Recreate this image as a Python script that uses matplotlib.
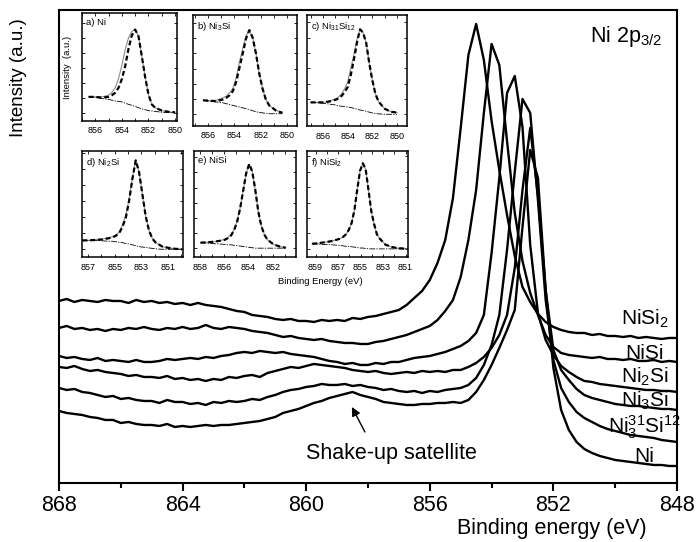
import numpy as np
import matplotlib
matplotlib.use('Agg')
import matplotlib.pyplot as plt
from matplotlib.ticker import FixedLocator, MultipleLocator, NullFormatter

plt.rcParams['font.family'] = ['Liberation Sans', 'DejaVu Sans']
plt.rcParams['mathtext.default'] = 'regular'

# Ni 2p3/2 spectra, 868 -> 848 eV in 0.25 eV steps (one row per eV)
energy = np.linspace(868.0, 848.0, 81)

nisi2 = [
    182, 184, 181, 183,  182, 181, 183, 182,  182, 180, 183, 181,
    182, 180, 181, 179,  180, 178, 180, 178,  177, 176, 174, 172,
    171, 168, 167, 166,  164, 163, 164, 162,  162, 161, 163, 162,
    163, 162, 165, 164,  166, 167, 169, 171,  173, 178, 185, 192,
    203, 220, 243, 285,  355, 428, 459, 423,  362, 313, 268, 227,
    196, 181, 169, 161,  156, 153, 151, 150,  150, 148, 149, 147,
    147, 146, 147, 145,  146, 145, 144, 145,  145,
]
nisi = [
    155, 157, 154, 155,  153, 154, 152, 154,  153, 155, 154, 156,
    154, 153, 155, 154,  156, 154, 155, 158,  155, 154, 156, 155,
    154, 152, 151, 150,  148, 146, 147, 145,  144, 143, 144, 142,
    141, 140, 140, 139,  139, 141, 142, 144,  146, 148, 151, 154,
    157, 163, 172, 183,  206, 243, 293, 370,  439, 418, 342, 270,
    222, 190, 168, 148,  136, 130, 128, 127,  126, 125, 126, 124,
    124, 123, 124, 122,  122, 123, 121, 122,  121,
]
ni2si = [
    127, 125, 126, 124,  123, 125, 122, 123,  122, 121, 123, 121,
    121, 122, 124, 123,  124, 125, 124, 126,  125, 127, 128, 130,
    131, 130, 132, 131,  130, 131, 129, 128,  127, 126, 124, 122,
    121, 119, 120, 118,  118, 120, 119, 121,  121, 123, 125, 126,
    127, 129, 131, 134,  137, 142, 150, 168,  230, 305, 390, 407,
    356, 238, 170, 143,  128, 117, 111, 106,  102, 101, 99, 98,
    97, 96, 95, 94,  93, 93, 92, 92,  91,
]
ni3si = [
    116, 115, 117, 114,  112, 113, 111, 110,  109, 107, 108, 106,
    106, 105, 107, 104,  105, 103, 104, 102,  104, 103, 106, 105,
    107, 108, 106, 110,  112, 114, 116, 115,  117, 119, 118, 117,
    116, 115, 113, 112,  111, 112, 110, 109,  110, 111, 110, 112,
    111, 112, 111, 113,  113, 116, 120, 126,  135, 148, 168, 215,
    293, 355, 288, 193,  133, 113, 103, 94,  88, 85, 83, 81,
    79, 78, 77, 77,  76, 75, 74, 74,  73,
]
ni31si12 = [
    95, 93, 94, 91,  90, 88, 86, 87,  84, 85, 83, 82,
    82, 80, 83, 81,  81, 79, 80, 78,  81, 80, 82, 81,
    82, 84, 83, 86,  88, 91, 93, 94,  96, 97, 99, 98,
    98, 99, 97, 98,  96, 95, 93, 94,  92, 91, 92, 90,
    92, 91, 93, 94,  95, 98, 105, 118,  138, 168, 233, 311,
    384, 370, 283, 183,  123, 95, 81, 71,  65, 61, 57, 54,
    52, 50, 48, 47,  46, 45, 43, 42,  41,
]
ni = [
    72, 70, 69, 68,  66, 65, 63, 63,  60, 61, 59, 58,
    58, 57, 59, 56,  57, 56, 57, 58,  57, 58, 58, 59,
    60, 61, 62, 64,  66, 70, 72, 74,  77, 80, 82, 85,
    87, 89, 91, 88,  86, 84, 81, 80,  79, 78, 78, 79,
    79, 80, 80, 81,  80, 83, 91, 103,  118, 135, 153, 173,
    256, 333, 305, 193,  115, 73, 53, 41,  34, 30, 27, 25,
    23, 22, 21, 20,  19, 18, 18, 17,  17,
]

spectra = [nisi2, nisi, ni2si, ni3si, ni31si12, ni]
spectra_names = [r'NiSi$_2$', 'NiSi', r'Ni$_2$Si', r'Ni$_3$Si',
                 r'Ni$^{31}_3$Si$^{12}$', 'Ni']
name_y = [158, 124, 100, 76, 50, 21]

# Peak fits: energy offset from the peak (eV), normalised raw / fit / background
rel = [4.5, 4.0, 3.5, 3.0, 2.5, 2.0, 1.75, 1.5, 1.25, 1.0, 0.75, 0.5, 0.25,
       0.0, -0.25, -0.5, -0.75, -1.0, -1.25, -1.5, -2.0, -2.5, -3.0, -3.5, -4.0]
N = None

fit_titles = ['a) Ni', r'b) Ni$_3$Si', r'c) Ni$_{31}$Si$_{12}$',
              r'd) Ni$_2$Si', 'e) NiSi', r'f) NiSi$_2$']
fit_peaks = [853.0, 852.87, 853.0, 853.42, 853.95, 854.8]
fit_ticks = [[856, 854, 852, 850], [856, 854, 852, 850], [856, 854, 852, 850],
             [857, 855, 853, 851], [858, 856, 854, 852], [859, 857, 855, 853, 851]]

raw_a = [N, N, 0.19, 0.19, 0.19, 0.21, 0.245, 0.30, 0.41, 0.57, 0.76, 0.90, 0.98,
         1.0, 0.92, 0.68, 0.43, 0.22, 0.10, 0.06, 0.025, 0.01, 0.0, N, N]
fit_a = [N, N, 0.19, 0.19, 0.18, 0.19, 0.21, 0.24, 0.30, 0.405, 0.56, 0.77, 0.93,
         1.0, 0.92, 0.68, 0.43, 0.22, 0.10, 0.06, 0.025, 0.01, 0.005, N, N]
bg_a = [N, N, 0.19, 0.185, 0.17, 0.16, 0.15, 0.14, 0.135, 0.13, 0.115, 0.10, 0.09,
        0.075, 0.06, 0.045, 0.035, 0.025, 0.02, 0.015, 0.005, 0.0, 0.0, N, N]

raw_b = [N, N, 0.16, 0.155, 0.16, 0.19, 0.21, 0.25, 0.30, 0.43, 0.62, 0.78, 0.93,
         1.0, 0.91, 0.72, 0.48, 0.30, 0.17, 0.10, 0.04, 0.015, N, N, N]
fit_b = [N, N, 0.16, 0.155, 0.15, 0.17, 0.19, 0.22, 0.27, 0.38, 0.55, 0.72, 0.90,
         1.0, 0.91, 0.72, 0.48, 0.30, 0.17, 0.10, 0.04, 0.01, N, N, N]
bg_b = [N, N, 0.16, 0.15, 0.14, 0.13, 0.12, 0.11, 0.10, 0.09, 0.08, 0.07, 0.06,
        0.05, 0.035, 0.025, 0.015, 0.01, 0.005, 0.0, 0.0, 0.0, N, N, N]

raw_c = [N, 0.14, 0.14, 0.14, 0.155, 0.18, 0.20, 0.24, 0.30, 0.38, 0.54, 0.70, 0.88,
         1.0, 0.96, 0.84, 0.60, 0.40, 0.24, 0.15, 0.065, 0.03, 0.02, N, N]
fit_c = [N, 0.14, 0.14, 0.14, 0.15, 0.17, 0.185, 0.215, 0.26, 0.32, 0.46, 0.64, 0.84,
         1.0, 0.96, 0.84, 0.60, 0.40, 0.24, 0.15, 0.065, 0.03, 0.02, N, N]
bg_c = [N, 0.14, 0.135, 0.13, 0.12, 0.11, 0.10, 0.095, 0.09, 0.085, 0.08, 0.07, 0.06,
        0.05, 0.045, 0.035, 0.025, 0.015, 0.01, 0.005, 0.0, 0.0, 0.0, N, N]

raw_d = [N, 0.10, 0.10, 0.11, 0.115, 0.13, 0.14, 0.16, 0.19, 0.27, 0.38, 0.56, 0.80,
         1.0, 0.87, 0.62, 0.37, 0.21, 0.12, 0.075, 0.03, 0.015, 0.005, 0.0, N]
fit_d = [N, 0.10, 0.10, 0.105, 0.11, 0.125, 0.135, 0.15, 0.18, 0.25, 0.35, 0.54, 0.79,
         1.0, 0.87, 0.62, 0.37, 0.21, 0.12, 0.075, 0.03, 0.015, 0.005, 0.0, N]
bg_d = [N, 0.10, 0.10, 0.10, 0.095, 0.09, 0.09, 0.085, 0.08, 0.075, 0.065, 0.06, 0.05,
        0.04, 0.03, 0.025, 0.02, 0.015, 0.01, 0.005, 0.0, 0.0, 0.0, 0.0, N]

raw_e = [N, 0.065, 0.07, 0.075, 0.085, 0.105, 0.125, 0.16, 0.22, 0.32, 0.47, 0.68, 0.89,
         1.0, 0.91, 0.69, 0.43, 0.26, 0.16, 0.10, 0.045, 0.02, 0.005, N, N]
fit_e = [N, 0.065, 0.07, 0.075, 0.085, 0.10, 0.12, 0.15, 0.21, 0.31, 0.47, 0.68, 0.89,
         1.0, 0.91, 0.69, 0.43, 0.26, 0.16, 0.10, 0.045, 0.02, 0.005, N, N]
bg_e = [N, 0.065, 0.06, 0.055, 0.05, 0.045, 0.04, 0.04, 0.035, 0.03, 0.025, 0.02, 0.015,
        0.01, 0.005, 0.0, 0.0, 0.0, 0.0, 0.0, 0.0, 0.0, 0.0, N, N]

raw_f = [0.06, 0.065, 0.075, 0.085, 0.10, 0.12, 0.14, 0.17, 0.22, 0.30, 0.45, 0.69, 0.91,
         1.0, 0.93, 0.69, 0.44, 0.29, 0.17, 0.12, 0.05, 0.025, 0.01, 0.005, 0.0]
fit_f = [0.06, 0.065, 0.075, 0.085, 0.10, 0.12, 0.14, 0.17, 0.22, 0.30, 0.45, 0.69, 0.91,
         1.0, 0.93, 0.69, 0.44, 0.29, 0.17, 0.12, 0.05, 0.025, 0.01, 0.005, 0.0]
bg_f = [0.06, 0.055, 0.05, 0.05, 0.045, 0.04, 0.035, 0.03, 0.03, 0.025, 0.02, 0.015, 0.01,
        0.01, 0.005, 0.0, 0.0, 0.0, 0.0, 0.0, 0.0, 0.0, 0.0, 0.0, 0.0]

fit_raw = [raw_a, raw_b, raw_c, raw_d, raw_e, raw_f]
fit_sum = [fit_a, fit_b, fit_c, fit_d, fit_e, fit_f]
fit_bg = [bg_a, bg_b, bg_c, bg_d, bg_e, bg_f]

# ---------------------------------------------------------------- main plot
fig = plt.figure(figsize=(6.98, 5.42), dpi=100)
ax = fig.add_axes([0.0845, 0.1089, 0.8854, 0.8727])

for spec in spectra:
    ax.plot(energy, spec, color='black', lw=1.7, solid_joinstyle='round')

ax.set_xlim(868, 848)
ax.set_ylim(0, 473)
ax.set_yticks([])
ax.xaxis.set_major_locator(MultipleLocator(4))
ax.xaxis.set_minor_locator(MultipleLocator(2))
ax.tick_params(axis='x', which='major', direction='out', length=6, width=1.5,
               labelsize=15.5, pad=3, top=False)
ax.tick_params(axis='x', which='minor', direction='out', length=3.5, width=1.5,
               top=False)
for sp in ax.spines.values():
    sp.set_linewidth(1.5)

ax.set_xlabel('Binding energy (eV)', fontsize=15.5)
ax.xaxis.set_label_coords(0.798, -0.074)
fig.text(19 / 698, 1 - 78 / 542, 'Intensity (a.u.)', rotation=90,
         ha='center', va='center', fontsize=13.5)

ax.text(0.859, 0.932, r'Ni 2p$_{3/2}$', transform=ax.transAxes,
        fontsize=15.5, ha='left', va='baseline')

for name, ly in zip(spectra_names, name_y):
    ax.text(849.05, ly, name, fontsize=15, ha='center', va='baseline')

ax.annotate('', xy=(858.52, 76), xytext=(858.1, 51),
            arrowprops=dict(arrowstyle='-|>', color='black', lw=1.0,
                            mutation_scale=13, shrinkA=0, shrinkB=0))
ax.text(860.0, 24, 'Shake-up satellite', fontsize=15.5, ha='left', va='baseline')

# ---------------------------------------------------------------- fit insets
inset_rects = [[0.1175, 0.7768, 0.1361, 0.1993], [0.2765, 0.7675, 0.1490, 0.2048],
               [0.4398, 0.7675, 0.1433, 0.2048], [0.1175, 0.5258, 0.1447, 0.1956],
               [0.2779, 0.5258, 0.1461, 0.1956], [0.4398, 0.5258, 0.1447, 0.1956]]
inset_xlims = [(857.0, 849.85), (857.14, 849.26), (857.3, 849.19),
               (857.45, 849.87), (858.49, 850.11), (859.76, 850.79)]
inset_ylims = [(-0.10, 1.20), (-0.147, 1.18), (-0.138, 1.168),
               (-0.087, 1.105), (-0.105, 1.154), (-0.095, 1.143)]
inset_pads = [3.5, 3.5, 4.0, 4.5, 4.5, 4.5]

rel = np.array(rel)
for i in range(6):
    ia = fig.add_axes(inset_rects[i])
    e = fit_peaks[i] + rel
    raw = np.array(fit_raw[i], dtype=float)
    fit = np.array(fit_sum[i], dtype=float)
    bg = np.array(fit_bg[i], dtype=float)
    ia.plot(e, raw, color='#8c8c8c', lw=0.8)
    ia.plot(e, bg, color='black', lw=0.6, linestyle=(0, (7, 1.5, 1.5, 1.5)))
    ia.plot(e, fit, color='black', lw=1.6, linestyle=(0, (2.2, 1.3)))
    ia.set_xlim(*inset_xlims[i])
    ia.set_ylim(*inset_ylims[i])
    ia.xaxis.set_major_locator(FixedLocator(fit_ticks[i]))
    ia.xaxis.set_minor_locator(MultipleLocator(1))
    ia.yaxis.set_major_locator(MultipleLocator(0.18))
    ia.yaxis.set_major_formatter(NullFormatter())
    ia.tick_params(which='both', direction='in', length=2, width=0.6,
                   top=True, right=True, labelsize=6.5, pad=inset_pads[i])
    for sp in ia.spines.values():
        sp.set_linewidth(1.1)
    ia.text(0.04, 0.955, fit_titles[i], transform=ia.transAxes,
            fontsize=6.8, ha='left', va='top')

fig.text(68 / 698, 1 - 67 / 542, 'Intensity  (a.u.)', rotation=90,
         ha='center', va='center', fontsize=6.8)
fig.text(320 / 698, 1 - 281 / 542, 'Binding Energy (eV)',
         ha='center', va='center', fontsize=6.8)

fig.savefig('out.png', dpi=100)
